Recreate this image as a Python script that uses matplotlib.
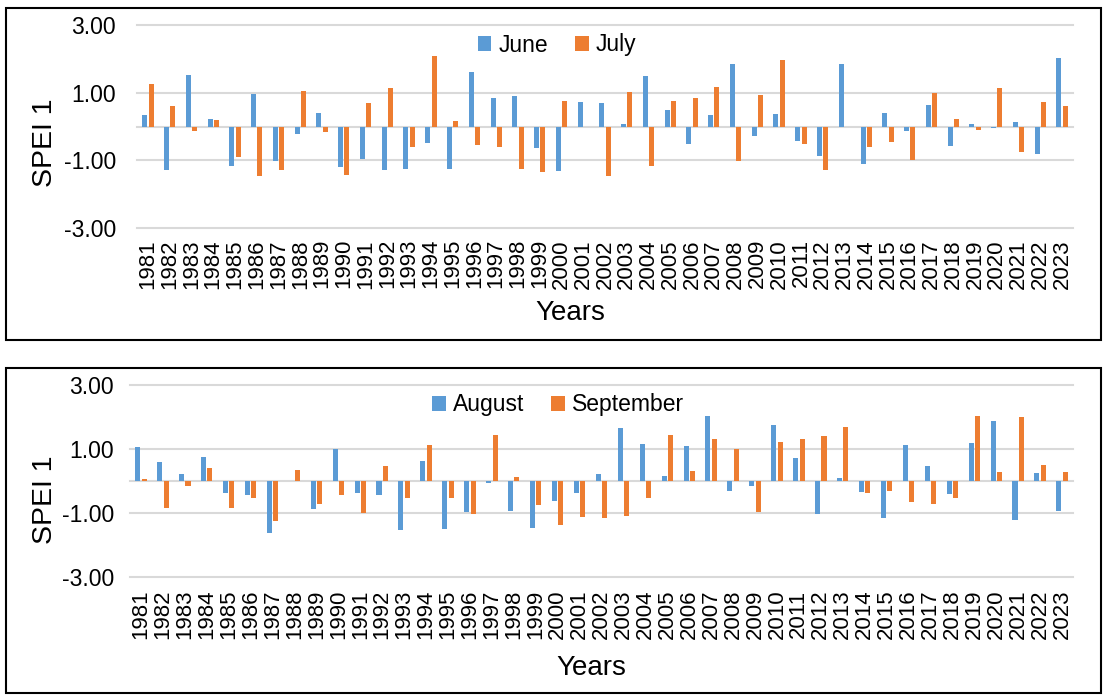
import matplotlib
matplotlib.use("Agg")
import matplotlib.pyplot as plt
from matplotlib.patches import Rectangle
import numpy as np

plt.rcParams['font.family'] = ['Liberation Sans', 'DejaVu Sans']

years = [str(y) for y in range(1981, 2024)]

june = [0.34, -1.28, 1.52, 0.21, -1.16, 0.97, -1.01, -0.21, 0.41, -1.19,
        -0.97, -1.29, -1.26, -0.49, -1.25, 1.60, 0.85, 0.89, -0.63, -1.33,
        0.72, 0.68, 0.07, 1.49, 0.50, -0.52, 0.34, 1.84, -0.27, 0.38,
        -0.42, -0.88, 1.84, -1.11, 0.40, -0.12, 0.63, -0.58, 0.07, -0.04,
        0.12, -0.80, 2.03]
july = [1.26, 0.61, -0.12, 0.20, -0.90, -1.46, -1.28, 1.05, -0.16, -1.44,
        0.68, 1.13, -0.60, 2.08, 0.16, -0.56, -0.60, -1.26, -1.35, 0.75,
        0.00, -1.46, 1.01, -1.18, 0.75, 0.83, 1.18, -1.01, 0.92, 1.96,
        -0.53, -1.30, 0.00, -0.61, -0.45, -1.00, 1.00, 0.22, -0.10, 1.14,
        -0.76, 0.72, 0.61]
august = [1.06, 0.59, 0.22, 0.74, -0.36, -0.45, -1.61, 0.00, -0.86, 1.00,
          -0.37, -0.44, -1.53, 0.63, -1.50, -0.97, -0.06, -0.93, -1.47, -0.61,
          -0.37, 0.21, 1.67, 1.16, 0.16, 1.09, 2.02, -0.32, -0.16, 1.76,
          0.71, -1.02, 0.09, -0.34, -1.15, 1.12, 0.47, -0.40, 1.20, 1.86,
          -1.23, 0.25, -0.93]
september = [0.05, -0.83, -0.16, 0.41, -0.85, -0.53, -1.24, 0.33, -0.72, -0.43,
             -0.99, 0.47, -0.52, 1.11, -0.52, -1.03, 1.45, 0.11, -0.76, -1.39,
             -1.11, -1.17, -1.10, -0.53, 1.43, 0.30, 1.30, 1.01, -0.97, 1.22,
             1.32, 1.40, 1.69, -0.36, -0.31, -0.65, -0.73, -0.54, 2.03, 0.28,
             1.99, 0.49, 0.29]

yticks = [3, 1, -1, -3]
ytick_labels = ["3.00", "1.00", "-1.00", "-3.00"]

BLUE = "#5B9BD5"
ORANGE = "#ED7D31"
GRID = "#D9D9D9"

W, H = 1105, 697
fig = plt.figure(figsize=(W / 100, H / 100), dpi=100)

def fx(px):
    return px / W

def fy(py):
    return 1 - py / H

# panel boxes
for (x0, y0, x1, y1) in [(6, 8, 1101, 340), (6, 368, 1101, 693)]:
    fig.patches.append(Rectangle((fx(x0), fy(y1)), fx(x1) - fx(x0), fy(y0) - fy(y1),
                                 transform=fig.transFigure, fill=False,
                                 edgecolor="black", linewidth=1.5, zorder=0))

def panel(rect, s1, s2, n1, n2, ypad, xpad, leg_center, ylab_pos, xlab_pos):
    left, top, right, bottom = rect
    ax = fig.add_axes([fx(left), fy(bottom), fx(right) - fx(left), fy(top) - fy(bottom)])
    x = np.arange(len(years))
    bw = 0.23
    off = 0.145
    ax.bar(x - off, s1, width=bw, color=BLUE, label=n1, zorder=3)
    ax.bar(x + off, s2, width=bw, color=ORANGE, label=n2, zorder=3)
    for v in yticks + [0]:
        ax.axhline(v, color=GRID, linewidth=1.5, zorder=1, clip_on=False)
    ax.set_ylim(-3, 3)
    ax.set_xlim(-0.5, len(years) - 0.5)
    ax.set_yticks(yticks)
    ax.set_yticklabels(ytick_labels, fontsize=16.5)
    ax.set_xticks(x)
    ax.set_xticklabels(years, rotation=90, fontsize=16)
    ax.tick_params(axis='y', length=0, pad=ypad)
    ax.tick_params(axis='x', length=0, pad=xpad)
    for sp in ax.spines.values():
        sp.set_visible(False)
    fig.text(fx(ylab_pos[0]), fy(ylab_pos[1]), "SPEI 1", rotation=90,
             ha="center", va="center", fontsize=20.5)
    fig.text(fx(xlab_pos[0]), fy(xlab_pos[1]), "Years",
             ha="center", va="center", fontsize=20)
    h, l = ax.get_legend_handles_labels()
    fig.legend(h, l, loc="center", bbox_to_anchor=(fx(leg_center[0]), fy(leg_center[1])),
               ncol=2, frameon=False, fontsize=16.5, handlelength=0.6,
               handleheight=0.6, handletextpad=0.3, columnspacing=1.2,
               borderpad=0)
    return ax

panel((137, 25, 1073, 228), june, july, "June", "July", 15, 8,
      (557, 45), (45, 143), (570, 313))
panel((130, 385, 1073, 577), august, september, "August", "September", 11.5, 9,
      (558, 405), (45, 500), (591, 668))

fig.savefig("out.png", dpi=100)
